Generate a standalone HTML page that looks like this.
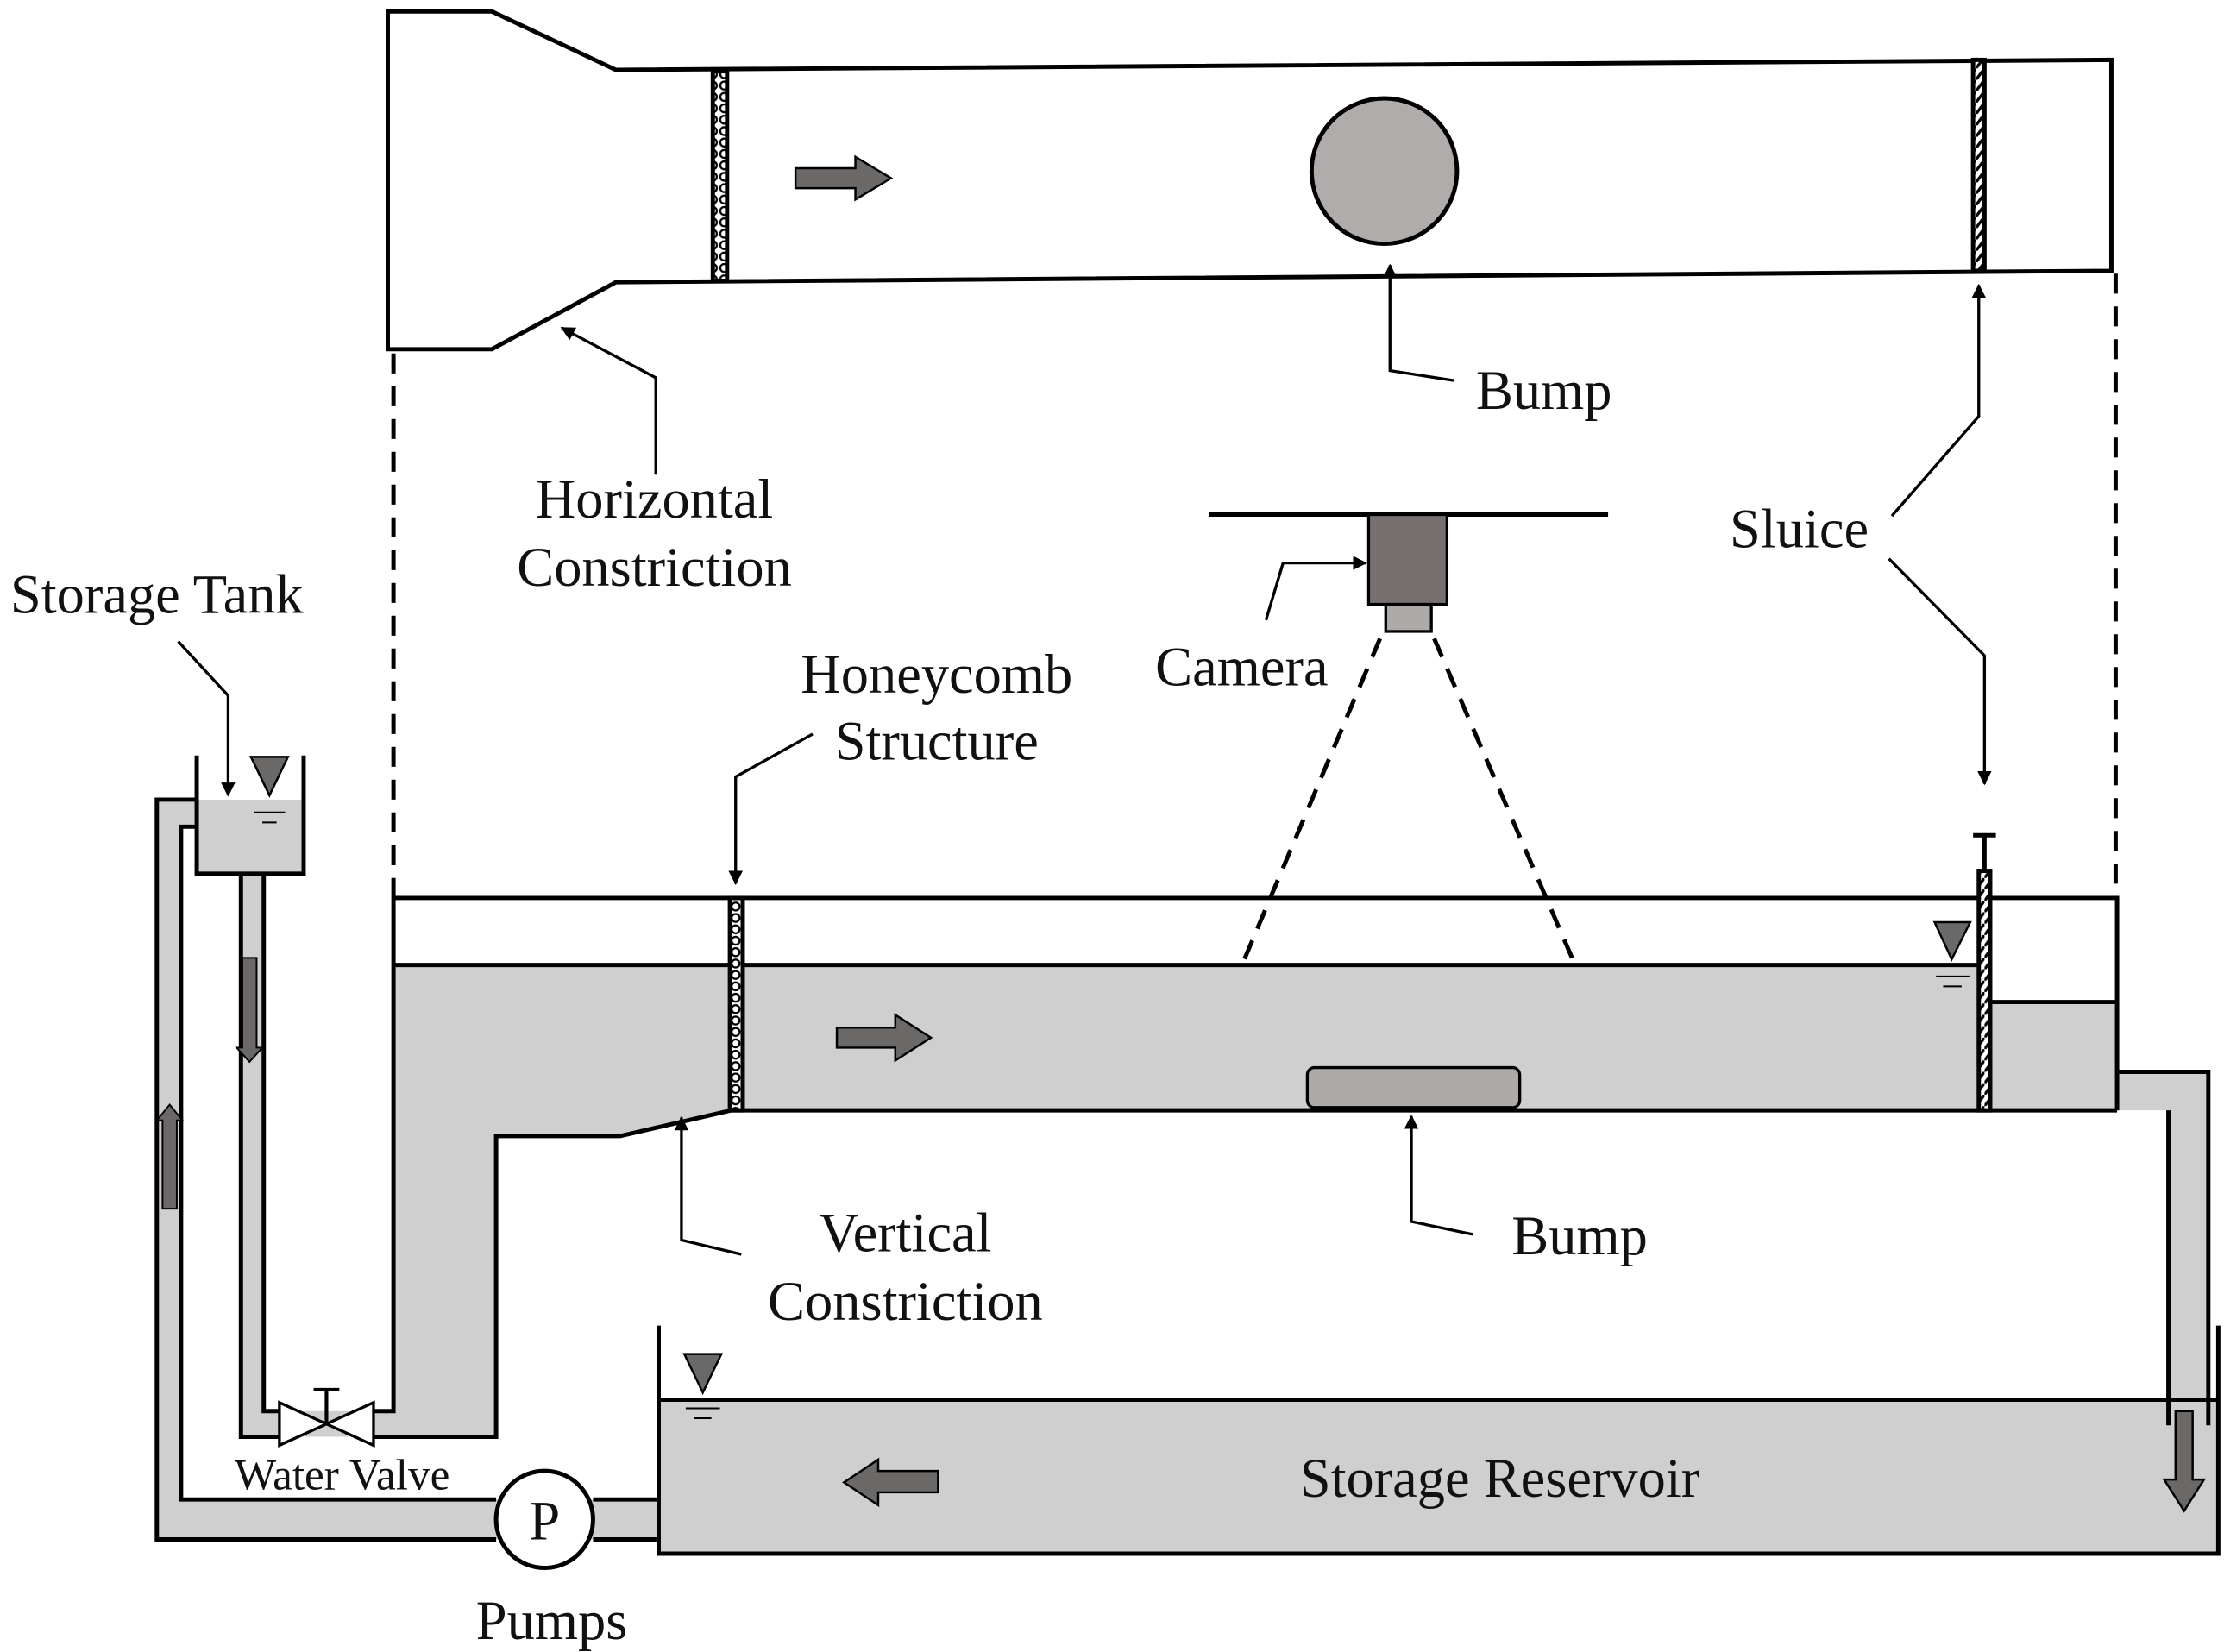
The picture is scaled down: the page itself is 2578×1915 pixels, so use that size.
<!DOCTYPE html>
<html><head><meta charset="utf-8"><style>html,body{margin:0;padding:0;background:#fff}svg{display:block}text{font-family:"Liberation Serif",serif;fill:#111}</style></head>
<body>
<svg width="2578" height="1915" viewBox="0 0 1560 1159" preserveAspectRatio="none" xmlns="http://www.w3.org/2000/svg">
<defs>
<marker id="ah" viewBox="0 0 10 10" refX="9" refY="5" markerWidth="5" markerHeight="5" orient="auto"><path d="M0,0L10,5L0,10z" fill="#000"/></marker>
<pattern id="hc" width="8" height="8" patternUnits="userSpaceOnUse"><rect width="8" height="8" fill="#fff"/><circle cx="4" cy="4" r="2.8" fill="none" stroke="#000" stroke-width="1.4"/></pattern>
<pattern id="sl" width="6" height="8" patternUnits="userSpaceOnUse"><rect width="6" height="8" fill="#fff"/><path d="M0,8L6,0" stroke="#000" stroke-width="2"/></pattern>
</defs>
<g stroke="#000" stroke-width="3" fill="none">
<path d="M272,8L345,8L432,49L1481,42L1481,190L432,198L345,245L272,245Z" fill="#fff"/>
<rect x="500" y="50" width="10" height="147" fill="url(#hc)"/>
<rect x="1384" y="42" width="8" height="148" fill="url(#sl)"/>
<circle cx="971" cy="120" r="51" fill="#b0acab"/>
<path d="M558,118L600,118L600,110L625,125L600,140L600,132L558,132Z" fill="#6b6868" stroke-width="1.5"/>
<path d="M276,248L276,630M1484,192L1484,630" stroke-dasharray="14,9"/>
<path d="M848,361L1128,361"/>
<rect x="960" y="361" width="55" height="63" fill="#767170" stroke-width="2"/>
<rect x="972" y="424" width="32" height="19" fill="#aeaaa9" stroke-width="2"/>
<path d="M968,448L872,675M1006,448L1104,675" stroke-dasharray="14,9"/>
<path d="M276,677L1397,677L1397,703L1485,703L1485,752L1549,752L1549,1000L1521,1000L1521,779L513,779L435,797L348,797L348,1008L169,1008L169,613L185,613L185,990L276,990Z" fill="#d0cfcf" stroke="none"/>
<path d="M110,561L138,561L138,580L127,580L127,1052L348,1052L348,1080L110,1080Z" fill="#d0cfcf" stroke="none"/>
<rect x="138" y="561" width="75" height="52" fill="#d0cfcf" stroke="none"/>
<rect x="462" y="982" width="1094" height="108" fill="#d0cfcf" stroke="none"/>
<rect x="348" y="1052" width="114" height="28" fill="#d0cfcf" stroke="none"/>
<path d="M276,630L1485,630L1485,779M276,630L276,990L262,990M196,990L185,990L185,613M169,613L169,1008L196,1008M262,1008L348,1008L348,797L435,797L513,779L1485,779"/>
<path d="M276,677L1397,677M1397,703L1485,703"/>
<path d="M1485,752L1549,752L1549,1000M1521,779L1521,1000"/>
<path d="M138,530L138,613L213,613L213,530"/>
<path d="M138,561L110,561L110,1080L348,1080M138,580L127,580L127,1052L348,1052"/>
<path d="M416,1052L462,1052M416,1080L462,1080"/>
<path d="M462,930L462,1090L1556,1090L1556,930M462,982L1556,982"/>
<circle cx="382" cy="1066" r="34" fill="#fff"/>
<rect x="512" y="630" width="9" height="149" fill="url(#hc)"/>
<rect x="1388" y="611" width="8" height="168" fill="url(#sl)"/>
<path d="M1392,611L1392,586M1384,586L1400,586"/>
<path d="M196,984L196,1014L262,984L262,1014Z" fill="#fff" stroke-width="2"/>
<path d="M229,999L229,975M220,975L238,975" stroke-width="2.5"/>
<rect x="917" y="749" width="149" height="28" rx="5" fill="#aeaaa9" stroke-width="2"/>
<path d="M587,721L628,721L628,712L653,728L628,744L628,735L587,735Z" fill="#6b6868" stroke-width="1.5"/>
<path d="M658,1032L616,1032L616,1024L592,1040L616,1056L616,1047L658,1047Z" fill="#6b6868" stroke-width="1.5"/>
<path d="M1526,990L1526,1038L1518,1038L1532,1060L1546,1038L1538,1038L1538,990Z" fill="#6b6868" stroke-width="1.5"/>
<path d="M170,672L170,735L166,735L175,745L184,735L180,735L180,672Z" fill="#6b6868" stroke-width="1.2"/>
<path d="M114,848L114,786L110,786L119,775L128,786L124,786L124,848Z" fill="#6b6868" stroke-width="1.2"/>
<path d="M176,531L202,531L189,558Z" fill="#6b6868" stroke-width="1.5"/>
<path d="M178,570L200,570M184,577L194,577" stroke-width="1.2"/>
<path d="M1357,647L1382,647L1369,673Z" fill="#6b6868" stroke-width="1.5"/>
<path d="M1358,685L1382,685M1363,692L1376,692" stroke-width="1.2"/>
<path d="M480,950L506,950L493,977Z" fill="#6b6868" stroke-width="1.5"/>
<path d="M481,988L505,988M487,995L499,995" stroke-width="1.2"/>
<g stroke-width="2">
<path d="M460,333L460,265L394,230" marker-end="url(#ah)"/>
<path d="M1020,267L975,260L975,186" marker-end="url(#ah)"/>
<path d="M1327,362L1388,292L1388,200" marker-end="url(#ah)"/>
<path d="M1325,392L1392,460L1392,550" marker-end="url(#ah)"/>
<path d="M125,450L160,488L160,558" marker-end="url(#ah)"/>
<path d="M570,515L516,545L516,620" marker-end="url(#ah)"/>
<path d="M888,435L900,395L958,395" marker-end="url(#ah)"/>
<path d="M520,880L478,870L478,784" marker-end="url(#ah)"/>
<path d="M1033,866L990,857L990,783" marker-end="url(#ah)"/>
</g>
</g>
<g font-size="39" text-anchor="middle">
<text x="459" y="363">Horizontal</text>
<text x="459" y="411">Constriction</text>
<text x="1083" y="287">Bump</text>
<text x="1262" y="384">Sluice</text>
<text x="110" y="430">Storage Tank</text>
<text x="657" y="486">Honeycomb</text>
<text x="657" y="533">Structure</text>
<text x="871" y="481">Camera</text>
<text x="635" y="878">Vertical</text>
<text x="635" y="926">Constriction</text>
<text x="1108" y="880">Bump</text>
<text x="1052" y="1050">Storage Reservoir</text>
<text x="382" y="1080">P</text>
<text x="387" y="1150">Pumps</text>
</g>
<text x="240" y="1045" font-size="31" text-anchor="middle">Water Valve</text>
</svg>
</body></html>
